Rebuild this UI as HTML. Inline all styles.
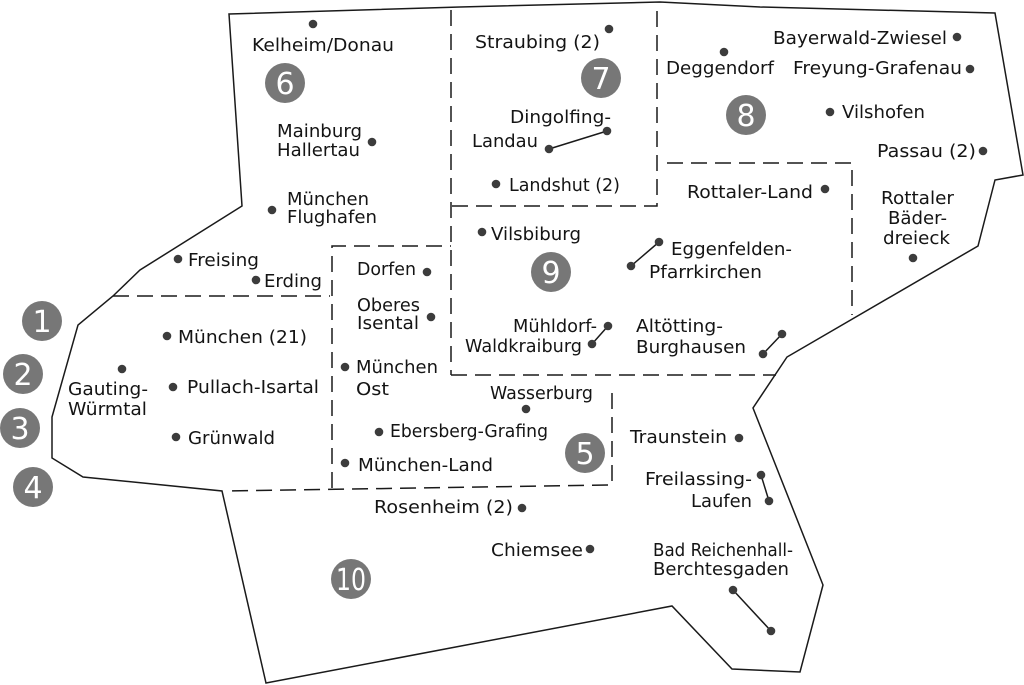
<!DOCTYPE html>
<html>
<head>
<meta charset="utf-8">
<style>
  html,body{margin:0;padding:0;background:#fff;}
  svg{display:block;}
  text{font-family:"DejaVu Sans","Liberation Sans",sans-serif;font-size:18px;fill:#141414;}
  .n{font-size:30px;fill:#fff;text-anchor:middle;}
</style>
</head>
<body>
<svg width="1024" height="685" viewBox="0 0 1024 685" xmlns="http://www.w3.org/2000/svg">
  <rect width="1024" height="685" fill="#fff"/>
  <!-- outer boundary -->
  <polygon points="229,14 460,7 660,2 760,7 995,13 1023,175 995,180 978,246 787,357 753,408 823,585 800,672 732,669 672,606 266,683 222,491 83,477 52,458 52,417 78,325 113,296 140,270 242,206"
    fill="none" stroke="#1a1a1a" stroke-width="1.5" stroke-linejoin="miter"/>
  <!-- dashed region lines -->
  <g fill="none" stroke="#1a1a1a" stroke-width="1.5" stroke-dasharray="16 8">
    <line x1="113" y1="296" x2="330" y2="296"/>
    <polyline points="332,488 332,246 451,246"/>
    <line x1="451" y1="10" x2="451" y2="375"/>
    <line x1="451" y1="375" x2="776" y2="375"/>
    <polyline points="452,206 657,206 657,10"/>
    <polyline points="667,163 852,163 852,315"/>
    <polyline points="612,393 612,485 227,491"/>
  </g>
  <!-- connectors -->
  <g stroke="#1a1a1a" stroke-width="1.5">
    <line x1="761" y1="475" x2="769" y2="501"/>
    <line x1="733" y1="590" x2="771" y2="631"/>
    <line x1="607" y1="131" x2="549" y2="149"/>
    <line x1="659" y1="242" x2="631" y2="266"/>
    <line x1="608" y1="326" x2="592" y2="344"/>
    <line x1="782" y1="334" x2="763" y2="354"/>
  </g>
  <!-- dots -->
  <g fill="#3c3c3c">
    <circle cx="313" cy="24" r="4.3"/>
    <circle cx="372" cy="142" r="4.3"/>
    <circle cx="272" cy="210" r="4.3"/>
    <circle cx="178" cy="259" r="4.3"/>
    <circle cx="256" cy="280" r="4.3"/>
    <circle cx="427" cy="272" r="4.3"/>
    <circle cx="431" cy="317" r="4.3"/>
    <circle cx="345" cy="367" r="4.3"/>
    <circle cx="167" cy="336" r="4.3"/>
    <circle cx="122" cy="369" r="4.3"/>
    <circle cx="173" cy="387" r="4.3"/>
    <circle cx="176" cy="437" r="4.3"/>
    <circle cx="379" cy="432" r="4.3"/>
    <circle cx="345" cy="463" r="4.3"/>
    <circle cx="526" cy="409" r="4.3"/>
    <circle cx="739" cy="438" r="4.3"/>
    <circle cx="761" cy="475" r="4.3"/>
    <circle cx="769" cy="501" r="4.3"/>
    <circle cx="522" cy="508" r="4.3"/>
    <circle cx="733" cy="590" r="4.3"/>
    <circle cx="771" cy="631" r="4.3"/>
    <circle cx="590" cy="549" r="4.3"/>
    <circle cx="609" cy="29" r="4.3"/>
    <circle cx="607" cy="131" r="4.3"/>
    <circle cx="549" cy="149" r="4.3"/>
    <circle cx="724" cy="52" r="4.3"/>
    <circle cx="957" cy="37" r="4.3"/>
    <circle cx="970" cy="69" r="4.3"/>
    <circle cx="830" cy="112" r="4.3"/>
    <circle cx="983" cy="151" r="4.3"/>
    <circle cx="825" cy="189" r="4.3"/>
    <circle cx="913" cy="258" r="4.3"/>
    <circle cx="496" cy="184" r="4.3"/>
    <circle cx="482" cy="232" r="4.3"/>
    <circle cx="659" cy="242" r="4.3"/>
    <circle cx="631" cy="266" r="4.3"/>
    <circle cx="608" cy="326" r="4.3"/>
    <circle cx="592" cy="344" r="4.3"/>
    <circle cx="782" cy="334" r="4.3"/>
    <circle cx="763" cy="354" r="4.3"/>
  </g>
  <!-- numbered circles -->
  <g fill="#777">
    <circle cx="285" cy="83" r="20"/>
    <circle cx="601" cy="78" r="20"/>
    <circle cx="746" cy="115" r="20"/>
    <circle cx="551" cy="272" r="20"/>
    <circle cx="585" cy="453" r="20"/>
    <circle cx="351" cy="579" r="20"/>
    <circle cx="42" cy="321" r="20"/>
    <circle cx="23" cy="374" r="20"/>
    <circle cx="20" cy="428" r="20"/>
    <circle cx="33" cy="487" r="20"/>
  </g>
  <text class="n" x="285" y="94">6</text>
  <text class="n" x="601" y="89">7</text>
  <text class="n" x="746" y="126">8</text>
  <text class="n" x="551" y="283">9</text>
  <text class="n" x="585" y="464">5</text>
  <text class="n" x="351" y="590" textLength="30" lengthAdjust="spacingAndGlyphs">10</text>
  <text class="n" x="42" y="332">1</text>
  <text class="n" x="23" y="385">2</text>
  <text class="n" x="20" y="439">3</text>
  <text class="n" x="33" y="498">4</text>
  <!-- labels -->
  <g>
    <text x="252" y="51" textLength="142" lengthAdjust="spacingAndGlyphs">Kelheim/Donau</text>
    <text x="277" y="137" textLength="85" lengthAdjust="spacingAndGlyphs">Mainburg</text>
    <text x="277" y="156" textLength="83" lengthAdjust="spacingAndGlyphs">Hallertau</text>
    <text x="287" y="205" textLength="82" lengthAdjust="spacingAndGlyphs">München</text>
    <text x="287" y="223" textLength="90" lengthAdjust="spacingAndGlyphs">Flughafen</text>
    <text x="188" y="266" textLength="71" lengthAdjust="spacingAndGlyphs">Freising</text>
    <text x="264" y="287" textLength="58" lengthAdjust="spacingAndGlyphs">Erding</text>
    <text x="357" y="275" textLength="59" lengthAdjust="spacingAndGlyphs">Dorfen</text>
    <text x="357" y="311" textLength="63" lengthAdjust="spacingAndGlyphs">Oberes</text>
    <text x="357" y="329" textLength="62" lengthAdjust="spacingAndGlyphs">Isental</text>
    <text x="356" y="373" textLength="82" lengthAdjust="spacingAndGlyphs">München</text>
    <text x="356" y="395" textLength="33" lengthAdjust="spacingAndGlyphs">Ost</text>
    <text x="178" y="343" textLength="129" lengthAdjust="spacingAndGlyphs">München (21)</text>
    <text x="68" y="395" textLength="80" lengthAdjust="spacingAndGlyphs">Gauting-</text>
    <text x="68" y="415" textLength="79" lengthAdjust="spacingAndGlyphs">Würmtal</text>
    <text x="187" y="393" textLength="132" lengthAdjust="spacingAndGlyphs">Pullach-Isartal</text>
    <text x="188" y="444" textLength="87" lengthAdjust="spacingAndGlyphs">Grünwald</text>
    <text x="390" y="437" textLength="158" lengthAdjust="spacingAndGlyphs">Ebersberg-Grafing</text>
    <text x="358" y="471" textLength="135" lengthAdjust="spacingAndGlyphs">München-Land</text>
    <text x="490" y="399" textLength="103" lengthAdjust="spacingAndGlyphs">Wasserburg</text>
    <text x="630" y="443" textLength="97" lengthAdjust="spacingAndGlyphs">Traunstein</text>
    <text x="645" y="485" textLength="107" lengthAdjust="spacingAndGlyphs">Freilassing-</text>
    <text x="691" y="507" textLength="61" lengthAdjust="spacingAndGlyphs">Laufen</text>
    <text x="374" y="513" textLength="139" lengthAdjust="spacingAndGlyphs">Rosenheim (2)</text>
    <text x="653" y="556" textLength="140" lengthAdjust="spacingAndGlyphs">Bad Reichenhall-</text>
    <text x="653" y="575" textLength="136" lengthAdjust="spacingAndGlyphs">Berchtesgaden</text>
    <text x="491" y="556" textLength="92" lengthAdjust="spacingAndGlyphs">Chiemsee</text>
    <text x="475" y="48" textLength="125" lengthAdjust="spacingAndGlyphs">Straubing (2)</text>
    <text x="510" y="123" textLength="101" lengthAdjust="spacingAndGlyphs">Dingolfing-</text>
    <text x="472" y="147" textLength="66" lengthAdjust="spacingAndGlyphs">Landau</text>
    <text x="666" y="74" textLength="108" lengthAdjust="spacingAndGlyphs">Deggendorf</text>
    <text x="773" y="44" textLength="174" lengthAdjust="spacingAndGlyphs">Bayerwald-Zwiesel</text>
    <text x="793" y="74" textLength="169" lengthAdjust="spacingAndGlyphs">Freyung-Grafenau</text>
    <text x="842" y="118" textLength="83" lengthAdjust="spacingAndGlyphs">Vilshofen</text>
    <text x="877" y="157" textLength="99" lengthAdjust="spacingAndGlyphs">Passau (2)</text>
    <text x="687" y="198" textLength="126" lengthAdjust="spacingAndGlyphs">Rottaler-Land</text>
    <text x="881" y="204" textLength="73" lengthAdjust="spacingAndGlyphs">Rottaler</text>
    <text x="888" y="224" textLength="59" lengthAdjust="spacingAndGlyphs">Bäder-</text>
    <text x="883" y="244" textLength="67" lengthAdjust="spacingAndGlyphs">dreieck</text>
    <text x="509" y="191" textLength="111" lengthAdjust="spacingAndGlyphs">Landshut (2)</text>
    <text x="491" y="240" textLength="90" lengthAdjust="spacingAndGlyphs">Vilsbiburg</text>
    <text x="671" y="255" textLength="121" lengthAdjust="spacingAndGlyphs">Eggenfelden-</text>
    <text x="649" y="278" textLength="113" lengthAdjust="spacingAndGlyphs">Pfarrkirchen</text>
    <text x="513" y="332" textLength="84" lengthAdjust="spacingAndGlyphs">Mühldorf-</text>
    <text x="465" y="352" textLength="117" lengthAdjust="spacingAndGlyphs">Waldkraiburg</text>
    <text x="636" y="332" textLength="87" lengthAdjust="spacingAndGlyphs">Altötting-</text>
    <text x="636" y="353" textLength="110" lengthAdjust="spacingAndGlyphs">Burghausen</text>
  </g>
</svg>
</body>
</html>
